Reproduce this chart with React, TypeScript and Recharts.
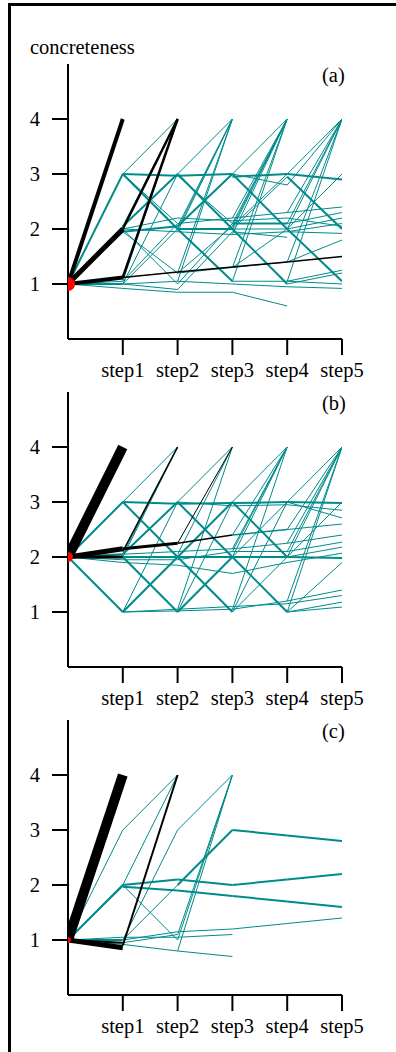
import React from 'react';
import { ComposedChart, Line, XAxis, YAxis } from 'recharts';

// ---------- data ----------
const stepTicks = [1, 2, 3, 4, 5];
const stepLabels = ['step1', 'step2', 'step3', 'step4', 'step5'];
const levelTicks = [1, 2, 3, 4];
const panelLetters = ['(a)', '(b)', '(c)'];
const startValues = [1, 2, 1];
const yAxisTitle = 'concreteness';

// edge: [fromStep, fromValue, toValue, count, modalPath(1) / other(0)]
const panelAEdges = [
  [0, 1, 4, 4, 1], [0, 1, 2, 5, 1], [0, 1, 1.12, 4, 1],
  [0, 1, 3, 2, 0], [0, 1, 2.05, 1, 0], [0, 1, 1.95, 2, 0], [0, 1, 1.05, 1, 0], [0, 1, 1.0, 2, 0], [0, 1, 0.92, 1, 0],
  [1, 3, 4, 1, 0], [1, 3, 2.97, 2, 0], [1, 3, 2.0, 2, 0], [1, 3, 2.1, 1, 0],
  [1, 2, 4, 2.5, 1], [1, 1.12, 4, 2.5, 1], [1, 1.12, 1.22, 1.5, 1],
  [1, 2.05, 3, 2, 0], [1, 2.05, 4, 1, 0], [1, 1.95, 2.05, 2, 0], [1, 2.0, 1.95, 1, 0], [1, 1.95, 1.2, 1, 0],
  [1, 2.0, 1.0, 1, 0], [1, 1.05, 2.1, 1, 0], [1, 1.05, 4, 1, 0], [1, 1.0, 1.05, 1, 0], [1, 1.0, 2.0, 1, 0],
  [1, 0.92, 0.85, 1, 0], [1, 1.0, 3, 1, 0], [1, 2.0, 2.2, 1, 0], [1, 1.0, 0.9, 1, 0],
  [2, 3, 4, 1, 0], [2, 2.97, 3.0, 2, 0], [2, 2.97, 2.1, 1, 0], [2, 3, 2.0, 2, 0], [2, 2.05, 4, 1, 0], [2, 2.0, 4, 1, 0],
  [2, 1.95, 4, 1, 0], [2, 1.2, 4, 1, 0], [2, 1.05, 4, 1, 0], [2, 2.05, 3, 2, 0], [2, 2.1, 2.2, 1, 0], [2, 2.0, 2.0, 2, 0],
  [2, 1.95, 1.9, 1, 0], [2, 2.0, 1.05, 2, 0], [2, 1.2, 1.3, 1, 0], [2, 1.2, 2.05, 1, 0], [2, 1.05, 1.0, 1, 0],
  [2, 1.0, 2.1, 1, 0], [2, 0.85, 0.85, 1, 0], [2, 1.22, 1.31, 1.5, 1], [2, 2.2, 2.15, 1, 0], [2, 0.9, 1.95, 1, 0],
  [3, 3.0, 4, 1, 0], [3, 2.2, 4, 1, 0], [3, 2.1, 4, 1, 0], [3, 2.05, 4, 1, 0], [3, 2.0, 4, 1, 0], [3, 1.9, 4, 1, 0],
  [3, 1.3, 4, 1, 0], [3, 1.05, 4, 1, 0], [3, 3.0, 2.8, 1, 0], [3, 2.95, 3.0, 2, 0], [3, 3.0, 2.0, 2, 0], [3, 2.05, 3, 1, 0],
  [3, 2.0, 2.95, 1, 0], [3, 2.2, 2.3, 1, 0], [3, 2.1, 2.1, 2, 0], [3, 2.0, 2.0, 1, 0], [3, 1.9, 1.95, 1, 0], [3, 2.0, 1.0, 2, 0],
  [3, 1.3, 1.4, 1, 0], [3, 1.05, 1.05, 1, 0], [3, 1.0, 0.95, 1, 0], [3, 1.3, 2.0, 1, 0], [3, 0.85, 0.6, 1, 0], [3, 1.31, 1.4, 1.5, 1],
  [3, 2.15, 2.2, 1, 0], [3, 1.95, 1.85, 1, 0],
  [4, 3.0, 4, 1, 0], [4, 2.8, 4, 1, 0], [4, 2.3, 4, 1, 0], [4, 2.1, 4, 1, 0], [4, 2.0, 4, 1, 0], [4, 1.4, 4, 1, 0], [4, 1.05, 4, 1, 0],
  [4, 3.0, 2.9, 2, 0], [4, 2.0, 3.0, 1, 0], [4, 2.3, 2.4, 1, 0], [4, 2.1, 2.3, 1, 0], [4, 2.0, 2.2, 1, 0], [4, 1.95, 2.1, 1, 0],
  [4, 2.95, 2.0, 2, 0], [4, 1.95, 1.92, 1, 0], [4, 1.4, 1.8, 1, 0], [4, 2.0, 1.05, 2, 0], [4, 1.4, 1.5, 1.5, 1],
  [4, 1.05, 1.25, 1, 0], [4, 1.0, 1.2, 1, 0], [4, 1.05, 1.0, 1, 0], [4, 0.95, 0.92, 1, 0], [4, 2.2, 2.05, 1, 0],
];

const panelBEdges = [
  [0, 2, 4, 10, 1], [0, 2, 2.15, 5, 1], [0, 2, 2.0, 3, 1],
  [0, 2, 3, 2, 0], [0, 2, 1, 2, 0], [0, 2, 2.05, 2, 0], [0, 2, 1.95, 1, 0], [0, 2, 1.9, 1, 0],
  [1, 3, 4, 1, 0], [1, 3, 2.97, 2, 0], [1, 3, 2.0, 2, 0], [1, 2.1, 4, 1.5, 1], [1, 2.15, 2.25, 3, 1],
  [1, 2.05, 4, 1, 0], [1, 2.0, 4, 1, 0], [1, 2.05, 3, 2, 0], [1, 2.0, 1, 2, 0], [1, 2.05, 2.1, 1, 0], [1, 1.95, 1.95, 1, 0],
  [1, 1.9, 1.85, 1, 0], [1, 2.0, 2.0, 2, 0], [1, 1, 2, 2, 0], [1, 1, 3, 1, 0], [1, 1, 1.02, 1, 0], [1, 1, 1.05, 1, 0],
  [2, 2.25, 4, 1, 1], [2, 2.25, 2.4, 1.5, 1],
  [2, 3, 4, 1, 0], [2, 2.05, 4, 1, 0], [2, 1.05, 4, 1, 0], [2, 2.97, 2.98, 2, 0], [2, 3, 2.93, 1, 0], [2, 3, 2.0, 2, 0],
  [2, 2.0, 3, 2, 0], [2, 2.1, 2.15, 1, 0], [2, 1.95, 2.1, 1, 0], [2, 1.85, 1.7, 1, 0], [2, 2.0, 1, 2, 0], [2, 1, 2, 2, 0],
  [2, 1.02, 1.05, 1, 0], [2, 1.05, 1.1, 1, 0], [2, 1, 3, 1, 0], [2, 2.0, 2.0, 2, 0],
  [3, 3, 4, 1, 0], [3, 2.4, 4, 1, 0], [3, 2.15, 4, 1, 0], [3, 2.1, 4, 1, 0], [3, 2.0, 4, 1, 0], [3, 1.05, 4, 1, 0],
  [3, 2.98, 3.0, 2, 0], [3, 2.93, 2.95, 1, 0], [3, 3, 2, 2, 0], [3, 2.4, 2.5, 1.5, 0], [3, 2.15, 2.25, 1, 0], [3, 2.0, 3, 1, 0],
  [3, 2.1, 2.1, 1, 0], [3, 1.7, 1.9, 1, 0], [3, 2.0, 1, 2, 0], [3, 1.05, 1.2, 1, 0], [3, 1.1, 1.15, 1, 0], [3, 1, 2, 1, 0],
  [3, 1.0, 3, 1, 0], [3, 2.0, 2.0, 2, 0],
  [4, 3, 4, 1, 0], [4, 2.5, 4, 1, 0], [4, 2.25, 4, 1, 0], [4, 2.1, 4, 1, 0], [4, 2.0, 4, 1, 0], [4, 1.2, 4, 1, 0], [4, 1.0, 4, 1, 0],
  [4, 3, 2.98, 2, 0], [4, 2.95, 2.85, 1, 0], [4, 3, 2.71, 1, 0], [4, 2.5, 2.6, 1, 0], [4, 2.25, 2.4, 1, 0], [4, 2.1, 2.27, 1, 0],
  [4, 2.0, 2.18, 1, 0], [4, 1.9, 2.07, 1, 0], [4, 2.0, 1.98, 2, 0], [4, 1.0, 1.9, 1, 0], [4, 2.0, 3.0, 1, 0],
  [4, 1.2, 1.4, 1, 0], [4, 1.15, 1.3, 1, 0], [4, 1.0, 1.18, 1, 0], [4, 1.0, 1.09, 1, 0],
];

const panelCEdges = [
  [0, 1, 4, 10, 1], [0, 1, 0.86, 5, 1], [0, 1, 0.95, 2, 1],
  [0, 1, 3, 1, 0], [0, 1, 2, 2, 0], [0, 1, 1.97, 1, 0], [0, 1, 1.05, 1, 0], [0, 1, 1.0, 2, 0], [0, 1, 0.92, 1, 0],
  [1, 0.9, 4, 2, 1],
  [1, 3, 4, 1, 0], [1, 2, 4, 1, 0], [1, 2, 2.1, 2, 0], [1, 1.97, 1.9, 2, 0], [1, 2, 1.0, 1, 0], [1, 1.0, 2.0, 1, 0],
  [1, 1.0, 3, 1, 0], [1, 1.05, 1.05, 1, 0], [1, 1.0, 1.15, 1, 0], [1, 0.92, 0.8, 1, 0], [1, 0.95, 1.1, 1, 0],
  [2, 3, 4, 1, 0], [2, 1.0, 4, 1, 0], [2, 0.8, 4, 1, 0], [2, 1.1, 4, 1, 0], [2, 2.0, 3, 2, 0], [2, 2.1, 2.0, 2, 0],
  [2, 1.9, 1.8, 2, 0], [2, 1.05, 1.1, 1, 0], [2, 1.15, 1.2, 1, 0], [2, 0.8, 0.7, 1, 0],
  [3, 3, 2.9, 2, 0], [3, 2.0, 2.1, 2, 0], [3, 1.8, 1.7, 2, 0], [3, 1.2, 1.3, 1, 0],
  [4, 2.9, 2.8, 2, 0], [4, 2.1, 2.2, 2, 0], [4, 1.7, 1.6, 2, 0], [4, 1.3, 1.4, 1, 0],
];

const panelEdges = [panelAEdges, panelBEdges, panelCEdges];

// ---------- styling / layout ----------
const TEAL = '#008b8b';
const FONT = 'Liberation Serif';
const FS = 20.5;
const PANEL_TOPS = [64, 392, 720];
const DOT_R = [7, 5, 3];
const TOP_PAD = 20;
const PLOT_H = 275;
const XAXIS_H = 50;

const tickStyle = { fill: '#000', fontSize: FS, fontFamily: FONT };

function Panel({ edges, start, top, dotR }: { edges: number[][]; start: number; top: number; dotR: number }) {
  const others = edges.filter((e) => e[4] === 0);
  const modal = edges.filter((e) => e[4] === 1);
  const renderEdge = (e: number[], i: number, color: string, prefix: string) => (
    <Line
      key={prefix + i}
      data={[
        { x: e[0], y: e[1] },
        { x: e[0] + 1, y: e[2] },
      ]}
      dataKey="y"
      stroke={color}
      strokeWidth={e[3]}
      dot={false}
      activeDot={false}
      isAnimationActive={false}
      type="linear"
    />
  );
  return (
    <div style={{ position: 'absolute', left: 0, top: top - TOP_PAD }}>
      <ComposedChart
        width={396}
        height={TOP_PAD + PLOT_H + XAXIS_H}
        margin={{ top: TOP_PAD, right: 54, bottom: 0, left: 8 }}
      >
        <XAxis
          type="number"
          dataKey="x"
          domain={[0, 5]}
          allowDataOverflow
          ticks={stepTicks}
          interval={0}
          tickFormatter={(v: number) => stepLabels[v - 1]}
          height={XAXIS_H}
          tickSize={16}
          tickMargin={7}
          axisLine={{ stroke: '#000', strokeWidth: 2 }}
          tickLine={{ stroke: '#000', strokeWidth: 2 }}
          tick={tickStyle}
        />
        <YAxis
          type="number"
          domain={[0, 5]}
          allowDataOverflow
          ticks={levelTicks}
          interval={0}
          width={60}
          tickSize={16}
          tickMargin={12}
          axisLine={{ stroke: '#000', strokeWidth: 2 }}
          tickLine={{ stroke: '#000', strokeWidth: 2 }}
          tick={tickStyle}
        />
        {others.map((e, i) => renderEdge(e, i, TEAL, 't'))}
        {modal.map((e, i) => renderEdge(e, i, '#000', 'b'))}
        <Line
          data={[{ x: 0, y: start }]}
          dataKey="y"
          stroke="none"
          dot={{ r: dotR, fill: '#ff0000', stroke: 'none' }}
          activeDot={false}
          isAnimationActive={false}
        />
      </ComposedChart>
    </div>
  );
}

export default function App() {
  return (
    <div
      style={{
        position: 'absolute',
        left: 0,
        top: 0,
        width: 396,
        height: 1052,
        overflow: 'hidden',
        background: '#fff',
      }}
    >
      <div
        style={{
          position: 'absolute',
          left: 8,
          top: 3,
          width: 400,
          height: 1060,
          borderTop: '3px solid #000',
          borderLeft: '3px solid #000',
        }}
      />
      {panelEdges.map((edges, i) => (
        <Panel key={i} edges={edges} start={startValues[i]} top={PANEL_TOPS[i]} dotR={DOT_R[i]} />
      ))}
      <svg width={396} height={1052} style={{ position: 'absolute', left: 0, top: 0, pointerEvents: 'none' }}>
        <text x={30} y={54} fontSize={FS} fill="#000" fontFamily={FONT}>
          {yAxisTitle}
        </text>
        {panelLetters.map((t, i) => (
          <text key={t} x={322} y={PANEL_TOPS[i] + 17.5} fontSize={FS} fill="#000" fontFamily={FONT}>
            {t}
          </text>
        ))}
      </svg>
    </div>
  );
}
